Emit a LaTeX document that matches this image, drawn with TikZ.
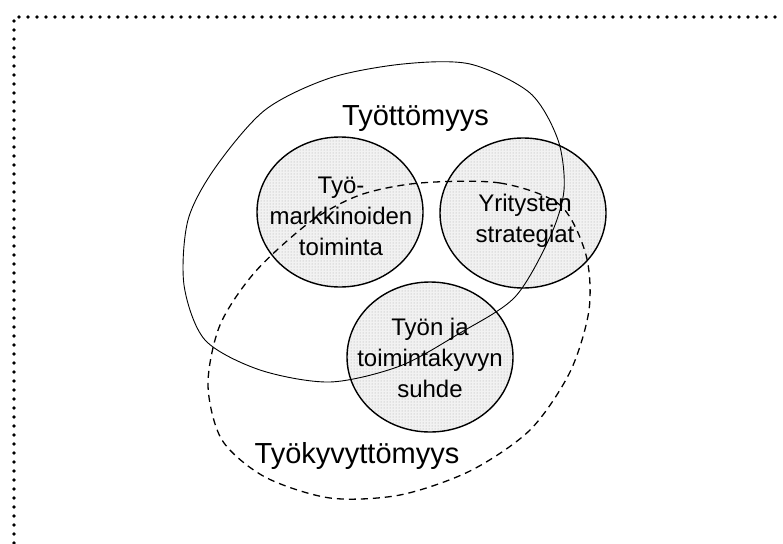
\documentclass[tikz,border=0pt]{standalone}
\usepackage{fontspec}
\setmainfont{Liberation Sans}
\usetikzlibrary{shapes.geometric,patterns}
\tikzset{
  setcircle/.style={ellipse, draw=black, line width=1.4pt, inner sep=0pt,
    minimum width=166pt, minimum height=150pt,
    preaction={fill=black!5}, pattern=dots, pattern color=black!35},
  solidset/.style={draw=black, line width=0.9pt},
  dashset/.style={draw=black, line width=1.3pt, dash pattern=on 7pt off 5pt},
  innerlabel/.style={align=center, inner sep=0pt, font=\fontsize{24}{31}\selectfont},
  biglabel/.style={inner sep=0pt, anchor=base, font=\fontsize{29}{34}\selectfont},
  frameline/.style={line width=3.8pt, dash pattern=on 0pt off 9pt, line cap=round}
}
\begin{document}
\begin{tikzpicture}[x=1pt,y=-1pt]
\useasboundingbox (0,0) rectangle (783,543);
% frame
\coordinate (fa) at (14,543);
\coordinate (fb) at (14,17);
\coordinate (fc) at (783,17);
\draw[frameline] (fa) -- (fb) -- (fc);
% circles
\node[setcircle] (c1) at (340,212) {};
\node[setcircle] (c2) at (523,213) {};
\node[setcircle] (c3) at (430,357) {};
% Tyottomyys (solid)
\draw[solidset] plot[smooth cycle] coordinates {
 (403,64) (470,64) (530,93) (558,140) (564,190) (550,237) (515,297)
 (460,333) (400,366) (330,382) (260,370) (205,340) (184,285) (188,220)
 (215,168) (265,110) (330,78)};
% Tyokyvyttomyys (dashed)
\draw[dashset] plot[smooth cycle] coordinates {
 (420,183) (500,183) (560,205) (586,255) (589,310) (570,372) (530,430)
 (470,471) (400,495) (330,498) (265,477) (222,440) (208,385) (220,325)
 (255,272) (310,222) (360,195)};
% labels
\node[innerlabel] (t1) at (341,216) {Työ-\\markkinoiden\\toiminta};
\node[innerlabel] (t2) at (525,221) {Yritysten\\strategiat};
\node[innerlabel] (t3) at (430,358) {Työn ja\\toimintakyvyn\\suhde};
\node[biglabel] (l1) at (415.5,125) {Työttömyys};
\node[biglabel] (l2) at (357,463) {Työkyvyttömyys};
\end{tikzpicture}
\end{document}
